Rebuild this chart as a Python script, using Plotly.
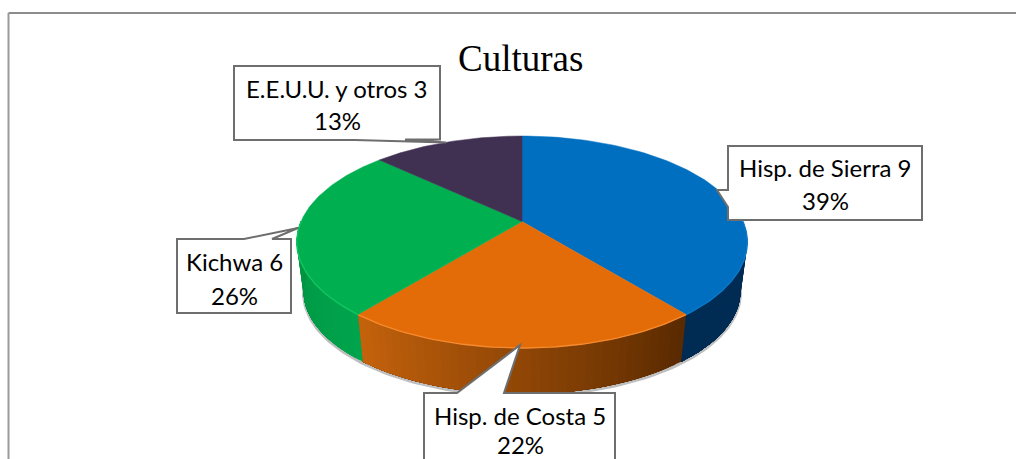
"""Culturas: 3D-look pie drawn with filled scatter traces."""

import numpy as np
import plotly.graph_objects as go

# data
CATEGORIES = ["Hisp. de Sierra", "Hisp. de Costa", "Kichwa", "E.E.U.U. y otros"]
COUNTS = [9, 5, 6, 3]
PERCENT_LABELS = ["39%", "22%", "26%", "13%"]

# colours per slice: top, wall at start of slice, wall at end of slice, rim
TOP_COLORS = ["#006FC0", "#E36C09", "#00B050", "#403152"]
WALL_START = ["#002C54", "#5A2A00", "#00A44C", "#2A2038"]
WALL_END = ["#002C54", "#C4620C", "#009240", "#2A2038"]
RIM_COLORS = ["#0B78C8", "#F58A2E", "#14C463", "#403152"]

# pie projection (pixels, the axes run in page pixels)
CX, APEX_Y = 522, 221.5
A, B, K = 221, 102, 0.1934
DEPTH, WALL_SCALE = 50, 0.97

FONT = "Lato, Carlito, sans-serif"
BOX_LINE = "#6E6E6E"


def rim(theta, scale=1.0, dy=0.0):
    w = 1 + K * np.cos(theta)
    x = CX + A * scale * np.sin(theta) / w
    y = APEX_Y - B * scale * np.cos(theta) / w + dy
    return x, y


def lerp_hex(c1, c2, t):
    a = [int(c1[i:i + 2], 16) for i in (1, 3, 5)]
    b = [int(c2[i:i + 2], 16) for i in (1, 3, 5)]
    return "#" + "".join(f"{round(p + (q - p) * t):02x}" for p, q in zip(a, b))


fig = go.Figure()
edges = np.cumsum([0] + COUNTS) / sum(COUNTS) * 2 * np.pi

# soft shadow under the wall
t = np.linspace(np.pi / 2, 3 * np.pi / 2, 120)
sx, sy = rim(t, WALL_SCALE, DEPTH + 1.5)
fig.add_trace(go.Scatter(x=sx, y=sy, mode="lines", line=dict(color="rgba(110,110,110,0.45)", width=3)))

# side wall: painted back to front so the gradient strips leave no seams
lo, hi = np.pi / 2, 3 * np.pi / 2
for i in range(len(COUNTS)):
    t1, t2 = max(edges[i], lo), min(edges[i + 1], hi)
    if t1 >= t2:
        continue
    steps = np.linspace(t1, t2, 41)
    for j in range(40):
        tt = np.linspace(steps[j], t2, 30)
        x1, y1 = rim(tt)
        x2, y2 = rim(tt[::-1], WALL_SCALE, DEPTH)
        col = lerp_hex(WALL_START[i], WALL_END[i], j / 39)
        fig.add_trace(
            go.Scatter(
                x=np.r_[x1, x2],
                y=np.r_[y1, y2],
                mode="lines",
                fill="toself",
                fillcolor=col,
                line=dict(width=0),
            )
        )

# top face
for i in range(len(COUNTS)):
    tt = np.linspace(edges[i], edges[i + 1], 90)
    x, y = rim(tt)
    fig.add_trace(
        go.Scatter(
            x=np.r_[CX, x, CX],
            y=np.r_[APEX_Y, y, APEX_Y],
            mode="lines",
            fill="toself",
            fillcolor=TOP_COLORS[i],
            line=dict(color=TOP_COLORS[i], width=0.5),
            name=CATEGORIES[i],
        )
    )
    # light rim on the front edge
    t1, t2 = max(edges[i], lo), min(edges[i + 1], hi)
    if t1 < t2:
        x, y = rim(np.linspace(t1, t2, 60))
        fig.add_trace(go.Scatter(x=x, y=y, mode="lines", line=dict(color=RIM_COLORS[i], width=1.4)))

# callout boxes, same order as CATEGORIES
BOX_PATHS = [
    "M728,146 L922,146 L922,220 L728,220 L728,207 L717,190 L728,190 Z",
    "M424,393 L457,393 L520,345 L504,393 L615,393 L615,475 L424,475 Z",
    "M177,239 L244,239 L298,228 L272,239 L291,239 L291,313 L177,313 Z",
    "M234,66 L440,66 L440,139.5 L405,139.5 L446,142.5 L355,140 L234,140 Z",
]
LABEL_POS = [(825, 167, 200), (520, 415, 444.5), (234, 261, 295), (337, 88, 120)]

shapes = [
    dict(type="path", path=p, fillcolor="white", line=dict(color=BOX_LINE, width=2), layer="above")
    for p in BOX_PATHS
]
# page frame: only top and left sides show
shapes.append(dict(type="line", x0=8.5, x1=1016, y0=13, y1=13, line=dict(color="#8C8C8C", width=2)))
shapes.append(dict(type="line", x0=8.5, x1=8.5, y0=13, y1=459, line=dict(color="#9A9A9A", width=2)))

annotations = [
    dict(x=520, y=58, text="Culturas", showarrow=False,
         font=dict(family="Liberation Serif, serif", size=37, color="#000000"))
]
for cat, n, pct, (lx, ly1, ly2) in zip(CATEGORIES, COUNTS, PERCENT_LABELS, LABEL_POS):
    annotations.append(dict(x=lx, y=ly1, text=f"{cat} {n}", showarrow=False, font=dict(family=FONT, size=24, color="#000000")))
    annotations.append(dict(x=lx, y=ly2, text=pct, showarrow=False, font=dict(family=FONT, size=24, color="#000000")))

fig.update_layout(
    width=1016,
    height=459,
    margin=dict(l=0, r=0, t=0, b=0),
    paper_bgcolor="white",
    plot_bgcolor="white",
    showlegend=False,
    hovermode=False,
    shapes=shapes,
    annotations=annotations,
)
fig.update_xaxes(range=[0, 1016], visible=False)
fig.update_yaxes(range=[459, 0], visible=False)

fig.write_html("out.html", config=dict(displayModeBar=False), post_script="document.body.style.margin='0';")
